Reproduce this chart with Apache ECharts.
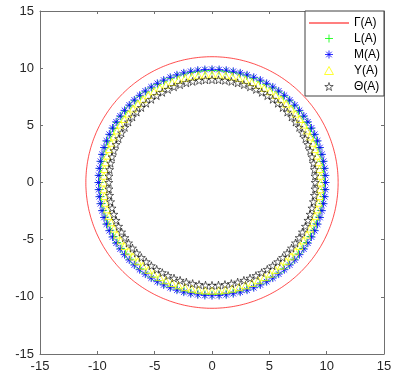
<!DOCTYPE html>
<html>
<head>
<meta charset="utf-8">
<script src="https://cdn.jsdelivr.net/npm/echarts@6/dist/echarts.min.js"></script>
<style>html,body{margin:0;padding:0;background:#fff}#c{width:408px;height:385px}</style>
</head>
<body>
<div id="c"></div>
<script>
// Series names and ring radii
var seriesNames = ['Γ(A)', 'L(A)', 'M(A)', 'Y(A)', 'Θ(A)'];
var gammaRadius = 11.0;
var lRadius = 9.8;
var mRadius = 9.9;
var yRadius = 9.45;
var thetaRadius = 9.0;
// Angles (degrees) of the marker points round each ring
var angles = [0,3.6,7.2,10.8,14.4,18,21.6,25.2,28.8,32.4,36,39.6,43.2,46.8,50.4,54,57.6,61.2,64.8,68.4,72,75.6,79.2,82.8,86.4,90,93.6,97.2,100.8,104.4,108,111.6,115.2,118.8,122.4,126,129.6,133.2,136.8,140.4,144,147.6,151.2,154.8,158.4,162,165.6,169.2,172.8,176.4,180,183.6,187.2,190.8,194.4,198,201.6,205.2,208.8,212.4,216,219.6,223.2,226.8,230.4,234,237.6,241.2,244.8,248.4,252,255.6,259.2,262.8,266.4,270,273.6,277.2,280.8,284.4,288,291.6,295.2,298.8,302.4,306,309.6,313.2,316.8,320.4,324,327.6,331.2,334.8,338.4,342,345.6,349.2,352.8,356.4];
var xTicks = [-15, -10, -5, 0, 5, 10, 15];
var yTicks = [-15, -10, -5, 0, 5, 10, 15];

function ring(r, close) {
  var pts = angles.map(function (a) {
    var t = a * Math.PI / 180;
    return [r * Math.cos(t), r * Math.sin(t)];
  });
  if (close) pts.push(pts[0]);
  return pts;
}

var linePath = 'path://M0,0L40,0L40,1L0,1Z';
var plusPath = 'path://M0,5L10,5M5,0L5,10';
var astPath = 'path://M0,5L10,5M5,0L5,10M1.5,1.5L8.5,8.5M1.5,8.5L8.5,1.5';
var triPath = 'path://M5,0L10,9L0,9Z';
var starPath = 'path://M5,0L6.12,3.45L9.76,3.45L6.82,5.59L7.94,9.05L5,6.91L2.06,9.05L3.18,5.59L0.24,3.45L3.88,3.45Z';

var colGamma = '#ff0000', colL = '#00ff00', colM = '#0000ff', colY = '#ffff00', colT = '#000000';

var axisCol = '#707070';
var textCol = '#262626';
var font = "'Liberation Sans', Arial, sans-serif";

function axis(pos, show) {
  return {
    type: 'value', position: pos, min: -15, max: 15, interval: 5,
    axisLine: { show: true, onZero: false, lineStyle: { color: axisCol, width: 1 } },
    axisTick: { show: true, inside: true, length: 3, lineStyle: { color: axisCol } },
    axisLabel: { show: show, color: textCol, fontSize: 13, fontFamily: font, margin: 6 },
    splitLine: { show: false }
  };
}

var chart = echarts.init(document.getElementById('c'), null, { renderer: 'canvas' });
chart.setOption({
  animation: false,
  backgroundColor: '#fff',
  grid: { left: 40, right: 24, top: 11, bottom: 31 },
  xAxis: [axis('bottom', true), axis('top', false)],
  yAxis: [axis('left', true), axis('right', false)],
  legend: {
    orient: 'vertical',
    left: 305, top: 11,
    itemWidth: 40, itemHeight: 8, itemGap: 3,
    padding: [6, 4, 3, 4],
    borderColor: '#404040', borderWidth: 1,
    backgroundColor: '#fff',
    textStyle: { color: '#000', fontSize: 12, fontFamily: font },
    data: [
      { name: seriesNames[0], icon: linePath, itemStyle: { color: colGamma, borderWidth: 0 } },
      { name: seriesNames[1], icon: plusPath, itemStyle: { color: 'none', borderColor: colL, borderWidth: 0.8 } },
      { name: seriesNames[2], icon: astPath, itemStyle: { color: 'none', borderColor: colM, borderWidth: 0.8 } },
      { name: seriesNames[3], icon: triPath, itemStyle: { color: 'none', borderColor: colY, borderWidth: 0.8 } },
      { name: seriesNames[4], icon: starPath, itemStyle: { color: 'none', borderColor: colT, borderWidth: 0.6 } }
    ]
  },
  series: [
    {
      name: seriesNames[0], type: 'line', data: ring(gammaRadius, true),
      symbol: 'none', smooth: true,
      lineStyle: { color: colGamma, width: 0.7 }, itemStyle: { color: colGamma }, z: 2
    },
    {
      name: seriesNames[1], type: 'scatter', data: ring(lRadius), symbol: plusPath, symbolSize: 8,
      itemStyle: { color: 'none', borderColor: colL, borderWidth: 0.8, opacity: 1 }, z: 3
    },
    {
      name: seriesNames[2], type: 'scatter', data: ring(mRadius), symbol: astPath, symbolSize: 8,
      itemStyle: { color: 'none', borderColor: colM, borderWidth: 0.8, opacity: 1 }, z: 4
    },
    {
      name: seriesNames[3], type: 'scatter', data: ring(yRadius), symbol: triPath, symbolSize: 7,
      itemStyle: { color: 'none', borderColor: colY, borderWidth: 0.8, opacity: 1 }, z: 5
    },
    {
      name: seriesNames[4], type: 'scatter', data: ring(thetaRadius), symbol: starPath, symbolSize: 8,
      itemStyle: { color: 'none', borderColor: colT, borderWidth: 0.6, opacity: 1 }, z: 6
    }
  ]
});
</script>
</body>
</html>
